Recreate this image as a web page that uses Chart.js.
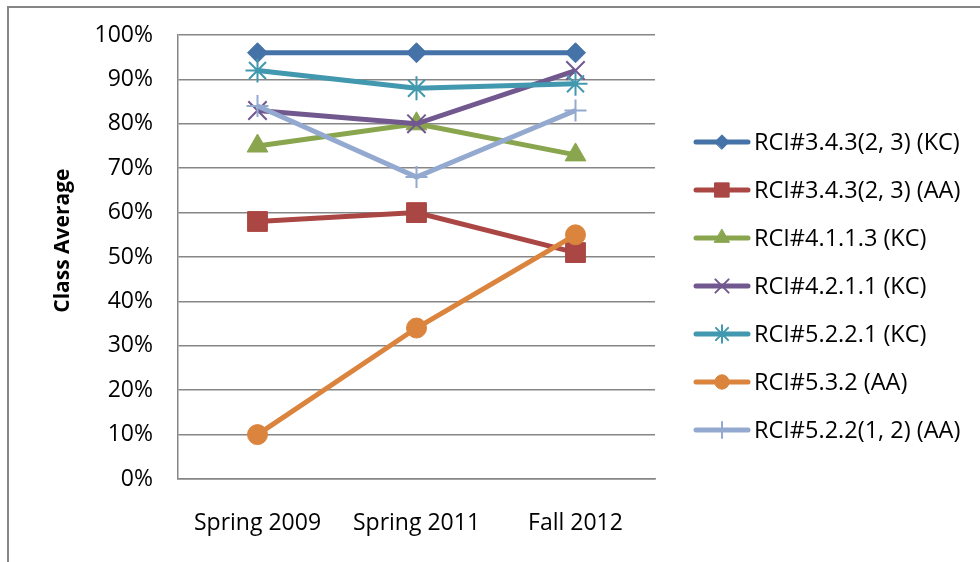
<!DOCTYPE html>
<html>
<head>
<meta charset="utf-8">
<script src="https://cdn.jsdelivr.net/npm/chart.js@4.4.0/dist/chart.umd.min.js"></script>
<style>
html, body { margin: 0; padding: 0; background: #fff; }
#wrap { position: relative; width: 980px; height: 562px; overflow: hidden; }
#frame { position: absolute; left: 7px; top: 6px; width: 990px; height: 600px;
  border-left: 2px solid #868686; border-top: 2px solid #868686; }
canvas { position: absolute; left: 0; top: 0; }
</style>
</head>
<body>
<div id="wrap"><div id="frame"></div><canvas id="c" width="980" height="562"></canvas></div>
<script>
// data (percent)
const categories = ['Spring 2009', 'Spring 2011', 'Fall 2012'];
const seriesNames = ['RCI#3.4.3(2, 3) (KC)', 'RCI#3.4.3(2, 3) (AA)', 'RCI#4.1.1.3 (KC)',
  'RCI#4.2.1.1 (KC)', 'RCI#5.2.2.1 (KC)', 'RCI#5.3.2 (AA)', 'RCI#5.2.2(1, 2) (AA)'];
const rci343KC = [96, 96, 96];
const rci343AA = [58, 60, 51];
const rci4113KC = [75, 80, 73];
const rci4211KC = [83, 80, 92];
const rci5221KC = [92, 88, 89];
const rci532AA = [10, 34, 55];
const rci5222AA = [84, 68, 83];
const yTicks = [0, 10, 20, 30, 40, 50, 60, 70, 80, 90, 100];

const values = [rci343KC, rci343AA, rci4113KC, rci4211KC, rci5221KC, rci532AA, rci5222AA];
const colors = ['#4572A7', '#AA4643', '#89A54E', '#71588F', '#4198AF', '#DB843D', '#93A9CF'];
const markers = ['rectRot', 'rect', 'triangle', 'crossRot', 'star', 'circle', 'cross'];
const radii = [10, 14, 12, 13, 12, 10, 11];

const datasets = values.map((v, i) => {
  const open = ['crossRot', 'star', 'cross'].includes(markers[i]);
  return {
    label: seriesNames[i],
    data: v,
    borderColor: colors[i],
    backgroundColor: colors[i],
    borderWidth: 5,
    pointStyle: markers[i],
    pointRadius: radii[i],
    pointBackgroundColor: colors[i],
    pointBorderColor: colors[i],
    pointBorderWidth: open ? 2 : 1,
    tension: 0,
    clip: false,
    order: 10 - i  // later series on top, like Excel
  };
});

// legend: line with marker in the middle
const lineLegend = {
  id: 'lineLegend',
  afterDraw(chart) {
    const ctx = chart.ctx;
    chart.data.datasets.forEach((ds, i) => {
      const y = 142 + i * 48;
      ctx.save();
      ctx.strokeStyle = ds.borderColor;
      ctx.lineWidth = 5;
      ctx.lineCap = 'round';
      ctx.beginPath();
      ctx.moveTo(696, y);
      ctx.lineTo(748, y);
      ctx.stroke();
      ctx.fillStyle = ds.pointBackgroundColor;
      ctx.strokeStyle = ds.pointBorderColor;
      ctx.lineWidth = ds.pointBorderWidth;
      Chart.helpers.drawPoint(ctx, {
        pointStyle: ds.pointStyle, rotation: 0,
        radius: ds.pointRadius * 0.72, borderWidth: ds.pointBorderWidth
      }, 722, y);
      ctx.fillStyle = '#000';
      ctx.font = '23.5px "Open Sans"';
      ctx.textAlign = 'left';
      ctx.textBaseline = 'middle';
      ctx.fillText(ds.label, 754, y + 1);
      ctx.restore();
    });
  }
};

new Chart(document.getElementById('c'), {
  type: 'line',
  data: { labels: categories, datasets: datasets },
  options: {
    responsive: false,
    animation: false,
    devicePixelRatio: 1,
    layout: { padding: { left: 50, right: 325, top: 35, bottom: 10 } },
    plugins: { legend: { display: false }, tooltip: { enabled: false } },
    scales: {
      x: {
        offset: true,
        grid: { display: false, drawTicks: false },
        border: { display: true, color: '#868686', width: 1.5 },
        ticks: { color: '#000', font: { family: 'Open Sans', size: 23 }, padding: 31 },
        afterFit: s => { s.height = 73; }
      },
      y: {
        min: 0, max: 100,
        afterBuildTicks: s => { s.ticks = yTicks.map(v => ({ value: v })); },
        grid: { color: '#868686', lineWidth: 1.5, drawTicks: false },
        border: { display: true, color: '#868686', width: 1.5 },
        ticks: { color: '#000', font: { family: 'Open Sans', size: 23 }, padding: 25,
          callback: v => v + '%' },
        title: { display: true, text: '      Class Average', color: '#000', padding: 0,
          font: { family: 'Open Sans', size: 21, weight: 'bold' } },
        afterFit: s => { s.width = 128; s.paddingTop = 0; s.paddingBottom = 0; }
      }
    }
  },
  plugins: [lineLegend]
});
</script>
</body>
</html>
